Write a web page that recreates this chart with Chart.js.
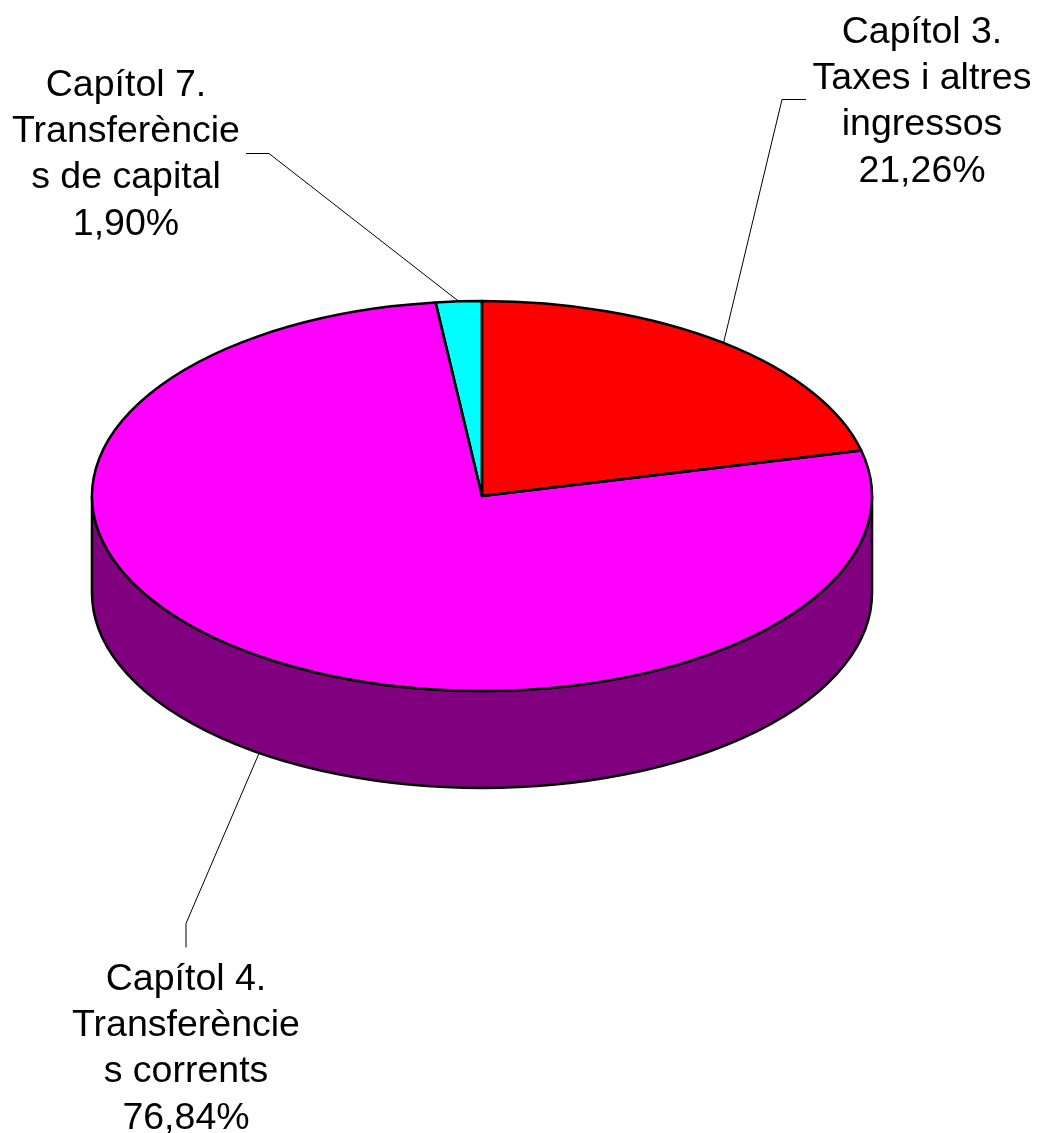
<!DOCTYPE html>
<html>
<head>
<meta charset="utf-8">
<style>
  html, body { margin: 0; background: #fff; }
  canvas { display: block; }
</style>
<script src="https://cdn.jsdelivr.net/npm/chart.js@4/dist/chart.umd.min.js"></script>
</head>
<body>
<canvas id="pie" width="1043" height="1133"></canvas>
<script>
const categories = ['Capítol 3. Taxes i altres ingressos', 'Capítol 4. Transferències corrents', 'Capítol 7. Transferències de capital']
const values = [21.26, 76.84, 1.90]
const labelLines = [
  ['Capítol 3.', 'Taxes i altres', 'ingressos'],
  ['Capítol 4.', 'Transferèncie', 's corrents'],
  ['Capítol 7.', 'Transferèncie', 's de capital']
]
const sliceColors = ['#ff0000', '#ff00ff', '#00ffff']
const sideColors = ['#800000', '#800080', '#008080']

// drawing settings, not data
const squash = 0.5
const depth = 97
const lineHeight = 46.2
const font = '37.5px "Liberation Sans", Arial, sans-serif'
const labelPos = [{ x: 922, y: 43 }, { x: 186, y: 990 }, { x: 126, y: 96 }]
const leaderElbow = [{ x: 782, y: 99 }, { x: 186, y: 923 }, { x: 269, y: 153 }]
const leaderEnd = [{ x: 806, y: 99 }, { x: 186, y: 947 }, { x: 246, y: 153 }]

const pie3d = {
  id: 'pie3d',
  beforeDatasetsDraw (chart) {
    const ctx = chart.ctx
    // the wall below the front half of the rim
    chart.getDatasetMeta(0).data.forEach((arc, i) => {
      const from = Math.max(arc.startAngle, 0)
      const to = Math.min(arc.endAngle, Math.PI)
      if (from >= to) return
      const ry = arc.outerRadius * squash
      ctx.beginPath()
      ctx.ellipse(arc.x, arc.y, arc.outerRadius, ry, 0, from, to)
      ctx.ellipse(arc.x, arc.y + depth, arc.outerRadius, ry, 0, to, from, true)
      ctx.closePath()
      ctx.fillStyle = sideColors[i]
      ctx.fill()
      ctx.lineWidth = 2.5
      ctx.strokeStyle = '#000'
      ctx.stroke()
    })
    // flatten the slices chart.js draws into an ellipse
    const c = chart.getDatasetMeta(0).data[0]
    ctx.save()
    ctx.translate(c.x, c.y)
    ctx.scale(1, squash)
    ctx.translate(-c.x, -c.y)
  },
  afterDatasetsDraw (chart) {
    const ctx = chart.ctx
    ctx.restore()
    chart.getDatasetMeta(0).data.forEach((arc, i) => {
      const ry = arc.outerRadius * squash
      ctx.beginPath()
      ctx.moveTo(arc.x, arc.y)
      ctx.ellipse(arc.x, arc.y, arc.outerRadius, ry, 0, arc.startAngle, arc.endAngle)
      ctx.closePath()
      ctx.lineWidth = 2.5
      ctx.lineJoin = 'round'
      ctx.strokeStyle = '#000'
      ctx.stroke()

      // leader line starts on the rim at the middle of the slice
      const mid = (arc.startAngle + arc.endAngle) / 2
      const x = arc.x + arc.outerRadius * Math.cos(mid)
      let y = arc.y + ry * Math.sin(mid)
      if (Math.sin(mid) > 0) y += depth
      ctx.beginPath()
      ctx.moveTo(x, y)
      ctx.lineTo(leaderElbow[i].x, leaderElbow[i].y + 0.5)
      ctx.lineTo(leaderEnd[i].x, leaderEnd[i].y + 0.5)
      ctx.lineWidth = 1
      ctx.stroke()

      // label text, the percentage comes from the data
      const lines = labelLines[i].concat(values[i].toFixed(2).replace('.', ',') + '%')
      ctx.font = font
      ctx.fillStyle = '#000'
      ctx.textAlign = 'center'
      ctx.textBaseline = 'alphabetic'
      lines.forEach((line, n) => {
        ctx.fillText(line, labelPos[i].x, labelPos[i].y + n * lineHeight)
      })
    })
  }
}

new Chart(document.getElementById('pie'), {
  type: 'pie',
  data: {
    labels: categories,
    datasets: [{
      data: values,
      backgroundColor: sliceColors,
      borderWidth: 0
    }]
  },
  options: {
    responsive: false,
    animation: false,
    layout: { padding: { left: 92, right: 171, top: 106, bottom: 247 } },
    plugins: {
      legend: { display: false },
      tooltip: { enabled: false }
    }
  },
  plugins: [pie3d]
})
</script>
</body>
</html>
